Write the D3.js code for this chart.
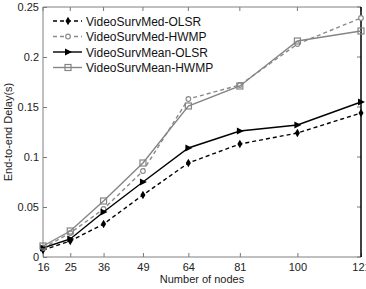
<!DOCTYPE html>
<html>
<head>
<meta charset="utf-8">
<script src="https://cdn.jsdelivr.net/npm/d3@7"></script>
<style>
  body { margin: 0; background: #fff; }
  svg text { font-family: "Liberation Sans", Arial, sans-serif; }
</style>
</head>
<body>
<svg id="chart"></svg>
<script>
const nodes = [16, 25, 36, 49, 64, 81, 100, 121];
const medOlsr = [0.007, 0.016, 0.033, 0.062, 0.094, 0.113, 0.124, 0.144];
const medHwmp = [0.009, 0.024, 0.048, 0.086, 0.158, 0.172, 0.213, 0.239];
const meanOlsr = [0.009, 0.018, 0.045, 0.075, 0.109, 0.126, 0.132, 0.155];
const meanHwmp = [0.011, 0.026, 0.056, 0.094, 0.151, 0.171, 0.216, 0.226];
const yTicks = [0, 0.05, 0.1, 0.15, 0.2, 0.25];
const seriesNames = ["VideoSurvMed-OLSR", "VideoSurvMed-HWMP", "VideoSurvMean-OLSR", "VideoSurvMean-HWMP"];

const width = 366, height = 289;
const margin = { top: 7, right: 5, bottom: 32, left: 43 };

const svg = d3.select("#chart").attr("width", width).attr("height", height);

const x = d3.scaleLinear().domain([16, 121]).range([margin.left, width - margin.right]);
const y = d3.scaleLinear().domain([0, 0.25]).range([height - margin.bottom, margin.top]);

const series = [
  { name: seriesNames[0], values: medOlsr, color: "#000", dash: "4,3", marker: "diamond" },
  { name: seriesNames[1], values: medHwmp, color: "#8a8a8a", dash: "4,3", marker: "circle" },
  { name: seriesNames[2], values: meanOlsr, color: "#000", dash: null, marker: "triangle" },
  { name: seriesNames[3], values: meanHwmp, color: "#858585", dash: null, marker: "square" },
];

// axes (MATLAB style, ticks inside)
const x0 = margin.left, x1 = width - margin.right;
const y0 = height - margin.bottom, y1 = margin.top;

const xAxis = d3.axisBottom(x).tickValues(nodes).tickSize(-4).tickPadding(6);
const yAxis = d3.axisLeft(y).tickValues(yTicks).tickSize(-4).tickPadding(4).tickFormat(d3.format("~g"));

svg.append("g").attr("transform", `translate(0,${y0})`).call(xAxis)
  .call(g => g.select(".domain").remove())
  .call(g => g.selectAll("line").attr("stroke", "#777"))
  .call(g => g.selectAll("text").attr("font-size", 11).attr("fill", "#222"));

svg.append("g").attr("transform", `translate(${x0},0)`).call(yAxis)
  .call(g => g.select(".domain").remove())
  .call(g => g.selectAll("line").attr("stroke", "#777"))
  .call(g => g.selectAll("text").attr("font-size", 11).attr("fill", "#222"));

// top and right ticks
svg.append("g").selectAll("line").data(nodes).join("line")
  .attr("x1", d => x(d)).attr("x2", d => x(d))
  .attr("y1", y1).attr("y2", y1 + 4).attr("stroke", "#777");
svg.append("g").selectAll("line").data(yTicks).join("line")
  .attr("x1", x1).attr("x2", x1 - 4)
  .attr("y1", d => y(d)).attr("y2", d => y(d)).attr("stroke", "#777");

// frame
svg.append("path").attr("d", `M${x1},${y0}H${x0}V${y1}H${x1}`)
  .attr("fill", "none").attr("stroke", "#808080");
svg.append("line").attr("x1", x1).attr("x2", x1).attr("y1", y1).attr("y2", y0)
  .attr("stroke", "#000").attr("stroke-width", 1.5);

const line = d3.line().x((d, i) => x(nodes[i])).y(d => y(d));

function drawMarker(g, type, color) {
  if (type === "diamond") {
    g.append("path").attr("d", d3.symbol(d3.symbolDiamond, 22)()).attr("fill", color);
  } else if (type === "circle") {
    g.append("circle").attr("r", 2.3).attr("fill", "#fff").attr("stroke", color).attr("stroke-width", 1.2);
  } else if (type === "triangle") {
    g.append("path").attr("d", "M-3,-3.5L4,0L-3,3.5Z").attr("fill", color);
  } else {
    g.append("rect").attr("x", -3).attr("y", -3).attr("width", 6).attr("height", 6)
      .attr("fill", "none").attr("stroke", color).attr("stroke-width", 1.2);
  }
}

series.forEach(s => {
  svg.append("path").datum(s.values).attr("d", line)
    .attr("fill", "none").attr("stroke", s.color).attr("stroke-width", 1.4)
    .attr("stroke-dasharray", s.dash);
  s.values.forEach((v, i) => {
    const m = svg.append("g").attr("transform", `translate(${x(nodes[i])},${y(v)})`);
    drawMarker(m, s.marker, s.color);
  });
});

// legend
const legend = svg.append("g");
series.forEach((s, i) => {
  const ly = 21 + i * 15.5;
  legend.append("line").attr("x1", 53).attr("x2", 82).attr("y1", ly).attr("y2", ly)
    .attr("stroke", s.color).attr("stroke-width", 1.4).attr("stroke-dasharray", s.dash);
  const m = legend.append("g").attr("transform", `translate(68,${ly})`);
  drawMarker(m, s.marker, s.color);
  legend.append("text").attr("x", 86).attr("y", ly + 4.5)
    .attr("font-size", 12).attr("fill", "#111").text(s.name);
});

// axis titles
svg.append("text").attr("x", (x0 + x1) / 2).attr("y", 283).attr("text-anchor", "middle")
  .attr("font-size", 11).attr("fill", "#222").text("Number of nodes");
svg.append("text").attr("transform", `translate(12,${(y0 + y1) / 2}) rotate(-90)`)
  .attr("text-anchor", "middle").attr("font-size", 11).attr("fill", "#222").text("End-to-end Delay(s)");
</script>
</body>
</html>
